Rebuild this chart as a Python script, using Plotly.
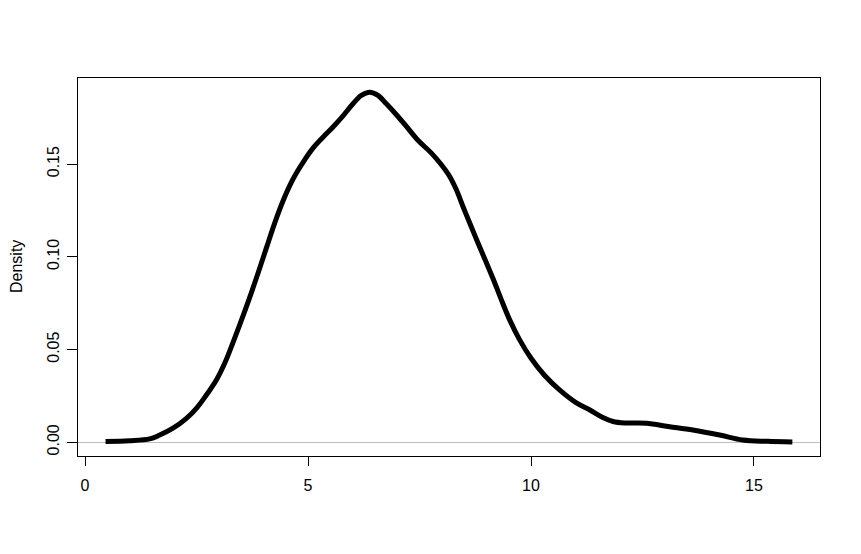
import plotly.graph_objects as go

# Kernel density estimate
x_vals = [0.46, 1.0, 1.45, 1.675, 1.973, 2.274, 2.498, 2.722, 2.946, 3.132, 3.283,
          3.46, 3.693, 3.879, 4.067, 4.253, 4.439, 4.59, 4.74, 4.926, 5.112, 5.336,
          5.561, 5.785, 6.009, 6.197, 6.383, 6.57, 6.757, 6.982, 7.206, 7.466,
          7.767, 7.991, 8.177, 8.327, 8.475, 8.626, 8.812, 9.0, 9.148, 9.336,
          9.522, 9.746, 10.009, 10.307, 10.64, 11.0, 11.32, 11.6, 11.84, 12.1,
          12.36, 12.59, 13.11, 13.63, 14.23, 14.75, 15.3, 15.86]
density = [0.0004, 0.0008, 0.0018, 0.0039, 0.0076, 0.0129, 0.0183, 0.0255, 0.0336,
           0.0426, 0.0516, 0.0627, 0.0781, 0.0911, 0.1048, 0.1182, 0.1301, 0.1384,
           0.1452, 0.1523, 0.1586, 0.1645, 0.1700, 0.1760, 0.1825, 0.1870, 0.1887,
           0.1870, 0.1825, 0.1766, 0.1703, 0.1628, 0.1559, 0.1496, 0.1433, 0.1361,
           0.1271, 0.1182, 0.1074, 0.0968, 0.0883, 0.0768, 0.0660, 0.0552, 0.0450,
           0.0360, 0.0282, 0.0215, 0.0174, 0.0135, 0.0112, 0.0104, 0.0104, 0.0102,
           0.0084, 0.0066, 0.0039, 0.0012, 0.0005, 0.0002]

x_ticks = [0, 5, 10, 15]
x_tick_labels = ["0", "5", "10", "15"]
y_ticks = [0.0, 0.05, 0.10, 0.15]
y_tick_labels = ["0.00", "0.05", "0.10", "0.15"]
y_title = "Density"

FONT = "Liberation Sans, Arial, sans-serif"

fig = go.Figure()
fig.add_trace(go.Scatter(
    x=x_vals, y=density, mode="lines",
    line=dict(color="black", width=5, shape="spline", smoothing=1.0),
    hoverinfo="skip", showlegend=False,
))

# page body has an 8px margin, so the figure is made 8px smaller each way
fig.update_layout(
    width=853, height=546,
    margin=dict(l=70, r=41, t=70, b=98, pad=0),
    paper_bgcolor="white", plot_bgcolor="white",
    font=dict(family=FONT, size=16, color="black"),
    xaxis=dict(
        range=[-0.157, 16.48], tickvals=x_ticks, ticktext=x_tick_labels,
        showgrid=False, zeroline=False, showline=True, mirror=True,
        linecolor="black", linewidth=1, ticks="outside", ticklen=9,
        tickcolor="black", tickwidth=1, tickfont=dict(size=16, family=FONT),
        ticklabelstandoff=6,
    ),
    yaxis=dict(
        range=[-0.0074, 0.1964], tickvals=y_ticks, ticktext=y_tick_labels,
        showgrid=False, zeroline=True, zerolinecolor="#bebebe", zerolinewidth=1,
        showline=True, mirror=True, linecolor="black", linewidth=1,
        ticks="outside", ticklen=10, tickcolor="black", tickwidth=1,
        tickangle=-90, tickfont=dict(size=16, family=FONT),
        ticklabelstandoff=2,
    ),
    annotations=[dict(
        text=y_title, xref="paper", yref="paper",
        x=(16 - 78) / 742, y=0.5, xanchor="center", yanchor="middle",
        textangle=-90, showarrow=False, font=dict(size=16, family=FONT),
    )],
)

fig.write_html("out.html")
